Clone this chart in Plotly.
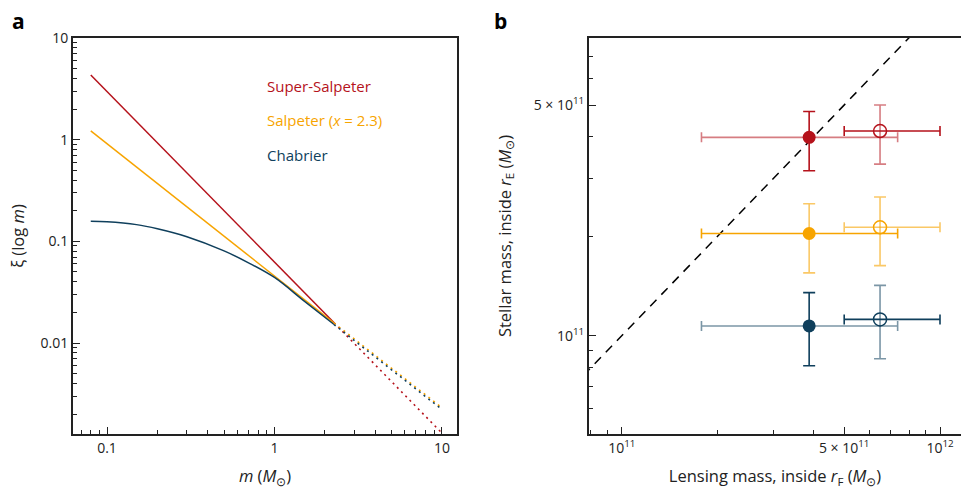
import plotly.graph_objects as go

# ---------------- Panel a data ----------------
imf_names = ["Super-Salpeter", "Salpeter (x = 2.3)", "Chabrier"]
super_m = [0.08, 2.27]
super_xi = [4.33, 0.0158]
salp_m = [0.08, 2.27]
salp_xi = [1.22, 0.0157]
chab_m = [0.08, 0.1, 0.15, 0.2, 0.3, 0.5, 0.7, 1.0, 1.5, 2.27]
chab_xi = [0.158, 0.156, 0.146, 0.133, 0.111, 0.0806, 0.0615, 0.0441, 0.0260, 0.0152]
ext_m = [2.27, 10]
super_ext = [0.0158, 0.0013]
salp_ext = [0.0157, 0.00231]
chab_ext = [0.0152, 0.00222]

# ---------------- Panel b data ----------------
lens_dm = 3.88e11
lens_dm_lo, lens_dm_hi = 1.78e11, 7.36e11
lens_tot = 6.48e11
lens_tot_lo, lens_tot_hi = 5.0e11, 1.0e12
star_dm = [3.99e11, 2.04e11, 1.07e11]
star_dm_lo = [3.16e11, 1.55e11, 0.811e11]
star_dm_hi = [4.78e11, 2.51e11, 1.35e11]
star_tot = [4.17e11, 2.13e11, 1.12e11]
star_tot_lo = [3.31e11, 1.63e11, 0.851e11]
star_tot_hi = [5.0e11, 2.63e11, 1.42e11]
one_to_one = [7e10, 1.2e12]

colors = ["#b5121b", "#f7a400", "#0f3f5c"]
light = ["rgba(181,18,27,0.55)", "rgba(247,164,0,0.6)", "rgba(15,63,92,0.55)"]

FONT = "Open Sans"
TXT = "#222222"

fig = go.Figure()

# panel a lines
fig.add_trace(go.Scatter(x=super_m, y=super_xi, mode="lines", line=dict(color=colors[0], width=1.5), xaxis="x", yaxis="y"))
fig.add_trace(go.Scatter(x=salp_m, y=salp_xi, mode="lines", line=dict(color=colors[1], width=1.5), xaxis="x", yaxis="y"))
fig.add_trace(go.Scatter(x=chab_m, y=chab_xi, mode="lines", line=dict(color=colors[2], width=1.5, shape="spline"), xaxis="x", yaxis="y"))
for yv, c in [(super_ext, colors[0]), (salp_ext, colors[1]), (chab_ext, colors[2])]:
    fig.add_trace(go.Scatter(x=ext_m, y=yv, mode="lines", line=dict(color=c, width=1.6, dash="2px,4px"), xaxis="x", yaxis="y"))

# panel b dashed 1:1 line
fig.add_trace(go.Scatter(x=one_to_one, y=one_to_one, mode="lines", line=dict(color="black", width=1.5, dash="9px,7px"), xaxis="x2", yaxis="y2"))

for i in range(3):
    # filled (M_tot - M_dm)
    fig.add_trace(go.Scatter(
        x=[lens_dm], y=[star_dm[i]], mode="markers",
        marker=dict(color=colors[i], size=13, symbol="circle"),
        error_x=dict(type="data", symmetric=False, array=[lens_dm_hi - lens_dm], arrayminus=[lens_dm - lens_dm_lo],
                     color=light[i] if i != 1 else colors[i], thickness=1.6, width=5),
        error_y=dict(type="data", symmetric=False, array=[star_dm_hi[i] - star_dm[i]], arrayminus=[star_dm[i] - star_dm_lo[i]],
                     color=colors[i] if i != 1 else light[i], thickness=1.6, width=6),
        xaxis="x2", yaxis="y2"))
    # open (M_tot)
    fig.add_trace(go.Scatter(
        x=[lens_tot], y=[star_tot[i]], mode="markers",
        marker=dict(color=colors[i], size=13, symbol="circle-open", line=dict(width=1.5, color=colors[i])),
        error_x=dict(type="data", symmetric=False, array=[lens_tot_hi - lens_tot], arrayminus=[lens_tot - lens_tot_lo],
                     color=colors[i] if i != 1 else light[i], thickness=1.6, width=5),
        error_y=dict(type="data", symmetric=False, array=[star_tot_hi[i] - star_tot[i]], arrayminus=[star_tot[i] - star_tot_lo[i]],
                     color=light[i], thickness=1.6, width=6),
        xaxis="x2", yaxis="y2"))

def minors(decades):
    return [k * 10 ** e for e in decades for k in range(2, 10)]

axis_common = dict(showgrid=False, zeroline=False, showline=True, linecolor="#222", linewidth=2,
                   ticks="inside", tickcolor="#222", tickwidth=1.2, ticklen=7, automargin=False,
                   tickfont=dict(family=FONT, size=14, color=TXT))
TFONT = dict(family=FONT, size=16.5, color=TXT)

fig.update_layout(
    width=961, height=490, margin=dict(l=0, r=0, t=0, b=0, autoexpand=False),
    paper_bgcolor="white", plot_bgcolor="white", showlegend=False,
    xaxis=dict(type="log", domain=[73/961, 457/961], range=[-1.203, 1.09],
               tickmode="array", tickvals=[0.1, 1, 10], ticktext=["0.1", "1", "10"], mirror=True,
               minor=dict(ticks="inside", tickmode="array", tickvals=minors([-2, -1, 0, 1]), ticklen=4, tickcolor="#222"),
               title=dict(text="<i>m</i> (<i>M</i><sub>⊙</sub>)", font=TFONT, standoff=15),
               anchor="y", **axis_common),
    yaxis=dict(type="log", domain=[1-434/490, 1-38/490], range=[-2.895, 1.0],
               tickmode="array", tickvals=[0.01, 0.1, 1, 10], ticktext=["0.01", "0.1", "1", "10"], mirror=True,
               minor=dict(ticks="inside", tickmode="array", tickvals=minors([-3, -2, -1, 0]), ticklen=4, tickcolor="#222"),
               title=dict(text="ξ (log <i>m</i>)", font=TFONT, standoff=12),
               anchor="x", **axis_common),
    xaxis2=dict(type="log", domain=[589/961, 1.0], range=[10.897, 12.066],
                tickmode="array", tickvals=[1e11, 5e11, 1e12],
                ticktext=["10<sup>11</sup>", "5 × 10<sup>11</sup>", "10<sup>12</sup>"], mirror=True,
                minor=dict(ticks="inside", tickmode="array", tickvals=minors([10, 11, 12]), ticklen=4, tickcolor="#222"),
                title=dict(text="Lensing mass, inside <i>r</i><sub>F</sub> (<i>M</i><sub>⊙</sub>)", font=TFONT, standoff=15),
                anchor="y2", **axis_common),
    yaxis2=dict(type="log", domain=[1-434/490, 1-38/490], range=[10.702, 11.902],
                tickmode="array", tickvals=[1e11, 5e11],
                ticktext=["10<sup>11</sup>", "5 × 10<sup>11</sup>"],
                minor=dict(ticks="inside", tickmode="array", tickvals=minors([10, 11]), ticklen=4, tickcolor="#222"),
                title=dict(text="Stellar mass, inside <i>r</i><sub>E</sub> (<i>M</i><sub>⊙</sub>)", font=TFONT, standoff=18),
                anchor="x2", **axis_common),
)

# legend-like labels for panel a
for name, c, yv in zip(imf_names, colors, [86, 120, 155]):
    txt = name.replace("(x", "(<i>x</i>")
    fig.add_annotation(text=txt, x=265/961, y=1 - yv/490, xref="paper", yref="paper",
                       xanchor="left", yanchor="middle", showarrow=False,
                       font=dict(family=FONT, size=15, color=c))

# labels panel b
fig.add_annotation(text="<i>M</i><sub>tot</sub> – <i>M</i><sub>dm</sub>", x=lens_dm, y=10.87, xref="x2", yref="y2",
                   showarrow=False, font=dict(family=FONT, size=14, color=TXT))
fig.add_annotation(text="<i>M</i><sub>tot</sub>", x=lens_tot, y=10.885, xref="x2", yref="y2",
                   showarrow=False, font=dict(family=FONT, size=14, color=TXT))

# panel letters
fig.add_annotation(text="<b>a</b>", x=10/961, y=1 - 21/490, xref="paper", yref="paper", xanchor="left", yanchor="middle",
                   showarrow=False, font=dict(family=FONT, size=21, color="black"))
fig.add_annotation(text="<b>b</b>", x=492/961, y=1 - 21/490, xref="paper", yref="paper", xanchor="left", yanchor="middle",
                   showarrow=False, font=dict(family=FONT, size=21, color="black"))

fig.write_html("out.html", config={"displayModeBar": False},
               post_script="document.body.style.margin='0px';document.body.style.overflow='hidden';")
